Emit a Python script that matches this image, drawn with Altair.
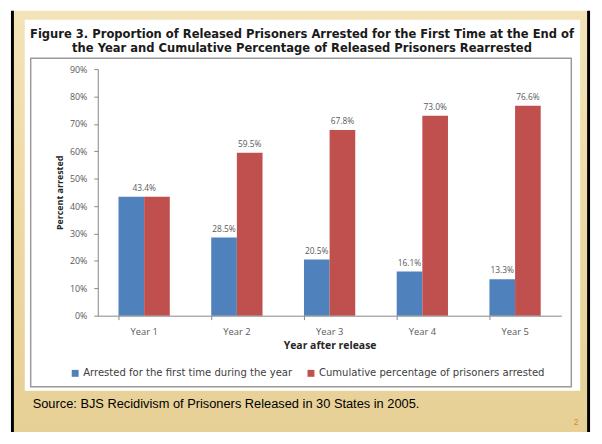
import altair as alt
import pandas as pd

# ---------------- data ----------------
years = ["Year 1", "Year 2", "Year 3", "Year 4", "Year 5"]
first_time = [43.4, 28.5, 20.5, 16.1, 13.3]
cumulative = [43.4, 59.5, 67.8, 73.0, 76.6]
series_names = [
    "Arrested for the first time during the year",
    "Cumulative percentage of prisoners arrested",
]
series_colors = ["#4F81BD", "#C0504D"]
y_ticks = [0, 10, 20, 30, 40, 50, 60, 70, 80, 90]
title_lines = [
    "Figure 3. Proportion of Released Prisoners Arrested for the First Time at the End of",
    "the Year and Cumulative Percentage of Released Prisoners Rearrested",
]
source_text = "Source: BJS Recidivism of Prisoners Released in 30 States in 2005."
page_number = "2"

rows = []
for i, yr in enumerate(years):
    for s, vals in zip(series_names, [first_time, cumulative]):
        rows.append(dict(
            year=yr, series=s, value=vals[i], label=f"{vals[i]:.1f}%",
            shared=bool(first_time[i] == cumulative[i]),
        ))
df = pd.DataFrame(rows)

FONT = "Open Sans"
WIDE = "DejaVu Sans"

# ---------------- decoration (slide) ----------------
deco = alt.Chart(pd.DataFrame({"d": [0]}))

cream_grad = alt.Gradient(
    gradient="linear", x1=0, x2=0, y1=0, y2=1,
    stops=[alt.GradientStop(color="#F3E3B8", offset=0),
           alt.GradientStop(color="#EDD9A3", offset=0.5),
           alt.GradientStop(color="#E7D096", offset=1)],
)
cream = deco.mark_rect(color=cream_grad).encode(
    x=alt.value(-85), x2=alt.value(496), y=alt.value(-59), y2=alt.value(370))
black_l = deco.mark_rect(color="#000000").encode(
    x=alt.value(-88), x2=alt.value(-85), y=alt.value(-59), y2=alt.value(370))
black_r = deco.mark_rect(color="#000000").encode(
    x=alt.value(496), x2=alt.value(499), y=alt.value(-59), y2=alt.value(370))
white_box = deco.mark_rect(color="#FFFFFF").encode(
    x=alt.value(-74), x2=alt.value(489), y=alt.value(-50), y2=alt.value(326))
inner_box = deco.mark_rect(fillOpacity=0, stroke="#9A9A9A", strokeWidth=1.5).encode(
    x=alt.value(-68), x2=alt.value(480), y=alt.value(-11), y2=alt.value(322))

title1 = deco.mark_text(text=title_lines[0], font=WIDE, fontWeight="bold", fontSize=11.7,
                        color="#1A1A1A", align="center", baseline="middle").encode(
    x=alt.value(207), y=alt.value(-35.5))
title2 = deco.mark_text(text=title_lines[1], font=WIDE, fontWeight="bold", fontSize=11.7,
                        color="#1A1A1A", align="center", baseline="middle").encode(
    x=alt.value(207), y=alt.value(-21.5))
source = deco.mark_text(text=source_text, font="Liberation Sans", fontSize=13,
                        color="#000000", align="left", baseline="middle").encode(
    x=alt.value(-66), y=alt.value(340))
pnum = deco.mark_text(text=page_number, font="Liberation Sans", fontSize=9,
                      color="#E08A1E", align="center", baseline="middle").encode(
    x=alt.value(485), y=alt.value(358))

# ---------------- chart ----------------
x_axis = alt.Axis(title="Year after release", labelAngle=0, ticks=True, tickSize=4,
                  tickColor="#868686", bandPosition=0, labelPadding=7,
                  labelFont=FONT, labelFontSize=9.5, labelColor="#595959",
                  titleFont=FONT, titleFontSize=10.6, titleFontWeight="bold",
                  titleColor="#262626", titlePadding=5,
                  domainColor="#868686", domainWidth=1, zindex=1)
x_scale = alt.Scale(paddingInner=0.447, paddingOuter=0.2235)
x_enc = alt.X("year:N", sort=years, scale=x_scale, axis=x_axis)

y_axis = alt.Axis(values=y_ticks, labelExpr="datum.value + '%'", title="Percent arrested",
                  grid=False, tickSize=4, tickColor="#868686", labelPadding=7,
                  labelOverlap=False, labelBound=False,
                  labelFont=FONT, labelFontSize=9, labelColor="#595959",
                  titleFont=FONT, titleFontSize=9, titleFontWeight="bold",
                  titleColor="#262626", titlePadding=5,
                  domainColor="#868686", domainWidth=1, zindex=1)
y_enc = alt.Y("value:Q", scale=alt.Scale(domain=[0, 90], nice=False), axis=y_axis)

xoff = alt.XOffset("series:N", sort=series_names,
                   scale=alt.Scale(paddingInner=0, paddingOuter=0))
color = alt.Color(
    "series:N", sort=series_names,
    scale=alt.Scale(domain=series_names, range=series_colors),
    legend=alt.Legend(title=None, orient="none", legendX=-28, legendY=303,
                      direction="horizontal", columns=2, symbolType="square",
                      symbolSize=49, symbolStrokeWidth=0, labelFont=WIDE,
                      labelFontSize=10.2, labelColor="#404040", labelOffset=3,
                      labelLimit=0, columnPadding=13, zindex=1),
)

base = alt.Chart(df)
bars = base.mark_bar().encode(x=x_enc, y=y_enc, xOffset=xoff, color=color)

labels = base.transform_filter("!datum.shared").mark_text(
    font=FONT, fontSize=8.5, color="#595959", baseline="alphabetic", dy=-6
).encode(x=x_enc, xOffset=xoff, y=y_enc, text="label:N")

shared_labels = base.transform_filter(
    alt.datum.shared & (alt.datum.series == series_names[0])
).mark_text(
    font=FONT, fontSize=8.5, color="#595959", baseline="alphabetic", dy=-6
).encode(x=x_enc, y=y_enc, text="label:N")

chart = alt.layer(
    cream, black_l, black_r, white_box, inner_box, title1, title2, source, pnum,
    bars, labels, shared_labels,
).properties(
    width=470, height=250,
    autosize=alt.AutoSizeParams(type="none"),
    padding={"left": 91, "top": 59, "right": 33, "bottom": 115},
).configure(background="#FFFFFF").configure_view(strokeWidth=0)

chart.save("out.html", embed_options={"renderer": "svg", "actions": False})
